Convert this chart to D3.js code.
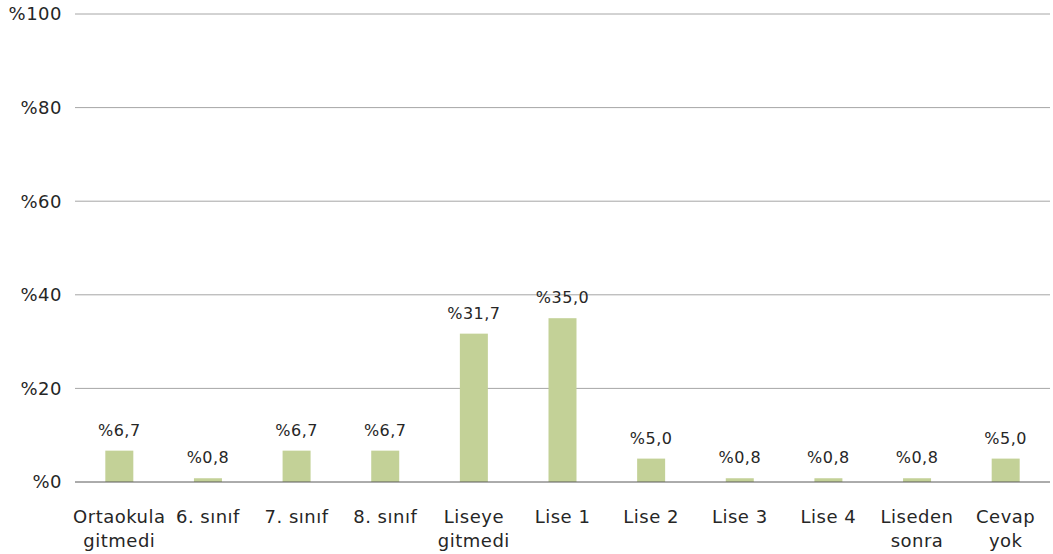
<!DOCTYPE html>
<html><head><meta charset="utf-8">
<script src="https://cdn.jsdelivr.net/npm/d3@7"></script>
<style>body{margin:0;background:#fff}svg{display:block}text{font-family:"DejaVu Sans",sans-serif;fill:#262626;letter-spacing:0.5px}</style>
</head><body>
<script>
const categories = [["Ortaokula","gitmedi"],["6. sınıf"],["7. sınıf"],["8. sınıf"],["Liseye","gitmedi"],["Lise 1"],["Lise 2"],["Lise 3"],["Lise 4"],["Liseden","sonra"],["Cevap","yok"]];
const values = [6.7,0.8,6.7,6.7,31.7,35.0,5.0,0.8,0.8,0.8,5.0];
const yTicks = [0,20,40,60,80,100];

const W=1053,H=554, L=75, R=1050, T=14, B=482;
const svg=d3.select("body").append("svg").attr("width",W).attr("height",H);
const keys=categories.map((c,i)=>i);
const x=d3.scaleBand().domain(keys).range([L,R]).padding(0);
const y=d3.scaleLinear().domain([0,100]).range([B,T]);
const fmt=v=>"%"+v.toFixed(1).replace(".",",");

svg.append("g").selectAll("line").data(yTicks.filter(t=>t>0)).join("line")
  .attr("x1",L).attr("x2",R).attr("y1",d=>y(d)).attr("y2",d=>y(d))
  .attr("stroke","#a6a6a6").attr("stroke-width",1);
svg.append("g").selectAll("text").data(yTicks).join("text")
  .attr("x",62).attr("y",d=>y(d)).attr("dy","0.35em").attr("text-anchor","end")
  .attr("font-size",18).text(d=>"%"+d);

const bw=28;
svg.append("g").selectAll("rect").data(values).join("rect")
  .attr("x",(d,i)=>x(i)+x.bandwidth()/2-bw/2).attr("width",bw)
  .attr("y",d=>y(d)).attr("height",d=>B-y(d)).attr("fill","#c3d197");
svg.append("line").attr("x1",L).attr("x2",R).attr("y1",B).attr("y2",B).attr("stroke","#595959").attr("stroke-width",1);

svg.append("g").selectAll("text").data(values).join("text")
  .attr("x",(d,i)=>x(i)+x.bandwidth()/2).attr("y",d=>y(d)-15)
  .attr("text-anchor","middle").attr("font-size",16).text(fmt);

const cl=svg.append("g").selectAll("text").data(categories).join("text")
  .attr("x",(d,i)=>x(i)+x.bandwidth()/2).attr("y",523)
  .attr("text-anchor","middle").attr("font-size",18);
cl.selectAll("tspan").data(d=>d).join("tspan")
  .attr("x",function(){return this.parentNode.getAttribute("x");})
  .attr("dy",(d,j)=>j?24:0).text(d=>d);
</script>
</body></html>
